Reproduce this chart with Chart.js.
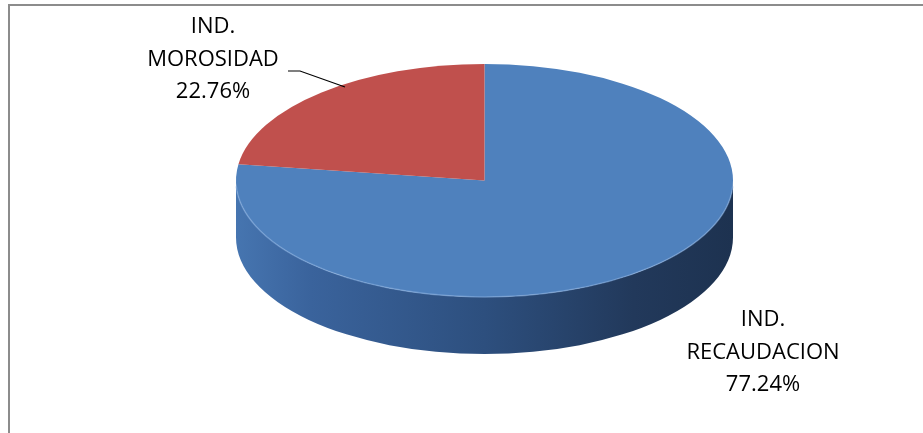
<!DOCTYPE html>
<html>
<head>
<meta charset="UTF-8">
<title>Indicadores</title>
<style type="text/css">
body {
	margin: 0;
	background: #fff;
}
#wrap {
	position: relative;
	width: 923px;
	height: 433px;
	overflow: hidden;
}
/* marco gris de la hoja */
#marco {
	position: absolute;
	left: 8px;
	top: 4px;
	right: -5px;
	bottom: -5px;
	border-left: 2px solid #8c8c8c;
	border-top: 2px solid #8c8c8c;
}
canvas {
	position: absolute;
	left: 0;
	top: 0;
}
</style>
</head>
<body>
	<div id="wrap">
		<div id="marco"></div>
		<canvas id="pieChart" width="923" height="433"></canvas>
	</div>
</body>
<script src="https://cdn.jsdelivr.net/npm/chart.js@4.4.0/dist/chart.umd.min.js"></script>
<script type="text/javascript">
	// datos
	const categorias = ['IND. RECAUDACION', 'IND. MOROSIDAD'];
	const valores = [77.24, 22.76];
	const colores = ['#4F81BD', '#C0504D'];

	// aspecto 3D (estilo)
	const ANCHO_ELIPSE = 497;
	const ALTO_ELIPSE = 233;
	const GROSOR = 57;

	function escala(el) {
		return { sx: (ANCHO_ELIPSE / 2) / el.outerRadius, sy: (ALTO_ELIPSE / 2) / el.outerRadius };
	}

	const pie3d = {
		id: 'pie3d',
		beforeDatasetsDraw(chart) {
			const ctx = chart.ctx;
			const arcs = chart.getDatasetMeta(0).data;
			const el = arcs[0];
			const s = escala(el);
			ctx.save();
			ctx.translate(el.x, el.y);
			ctx.scale(s.sx, s.sy);
			ctx.translate(-el.x, -el.y);
			const d = GROSOR / s.sy;
			const R = el.outerRadius;
			const grad = ctx.createLinearGradient(el.x - R, 0, el.x + R, 0);
			grad.addColorStop(0, '#4675b0');
			grad.addColorStop(0.15, '#3a639c');
			grad.addColorStop(0.5, '#2d4f7e');
			grad.addColorStop(0.8, '#22395b');
			grad.addColorStop(1, '#1d3250');
			// lado visible (mitad frontal)
			arcs.forEach(function(a) {
				[-2 * Math.PI, 0, 2 * Math.PI].forEach(function(k) {
					const a0 = Math.max(a.startAngle + k, 0);
					const a1 = Math.min(a.endAngle + k, Math.PI);
					if (a1 <= a0) return;
					ctx.beginPath();
					ctx.arc(a.x, a.y, R, a0, a1);
					ctx.arc(a.x, a.y + d, R, a1, a0, true);
					ctx.closePath();
					ctx.fillStyle = grad;
					ctx.fill();
				});
			});
		},
		afterDatasetsDraw(chart) {
			const ctx = chart.ctx;
			ctx.restore();
			// brillo en el borde frontal
			const el = chart.getDatasetMeta(0).data[0];
			ctx.save();
			ctx.strokeStyle = 'rgba(130,170,220,0.6)';
			ctx.lineWidth = 1.5;
			ctx.beginPath();
			ctx.ellipse(el.x, el.y, ANCHO_ELIPSE / 2, ALTO_ELIPSE / 2, 0, 0.05, Math.PI - 0.05);
			ctx.stroke();
			ctx.restore();
			// etiquetas
			ctx.save();
			ctx.fillStyle = '#000';
			ctx.font = '22px "Open Sans"';
			ctx.textAlign = 'center';
			ctx.textBaseline = 'middle';
			const pos = [ { x: 763, y: 320 }, { x: 213, y: 27 } ];
			categorias.forEach(function(c, i) {
				const partes = c.split(' ');
				const lineas = [partes[0], partes.slice(1).join(' '), valores[i].toFixed(2) + '%'];
				lineas.forEach(function(t, j) {
					ctx.fillText(t, pos[i].x, pos[i].y + j * 32.5);
				});
			});
			// linea guia morosidad
			ctx.strokeStyle = '#000';
			ctx.lineWidth = 1.2;
			ctx.beginPath();
			ctx.moveTo(288, 71);
			ctx.lineTo(300, 71);
			ctx.lineTo(345, 87);
			ctx.stroke();
			ctx.restore();
		}
	};

	const chart = new Chart(document.getElementById('pieChart'), {
		type: 'pie',
		data: {
			labels: categorias,
			datasets: [{
				data: valores,
				backgroundColor: colores,
				borderWidth: 0,
				hoverOffset: 0
			}]
		},
		options: {
			responsive: false,
			animation: false,
			events: [],
			devicePixelRatio: 1,
			layout: { padding: { left: 300, right: 254, top: 20, bottom: 92 } },
			plugins: {
				legend: { display: false },
				tooltip: { enabled: false }
			}
		},
		plugins: [pie3d]
	});
</script>
</html>
